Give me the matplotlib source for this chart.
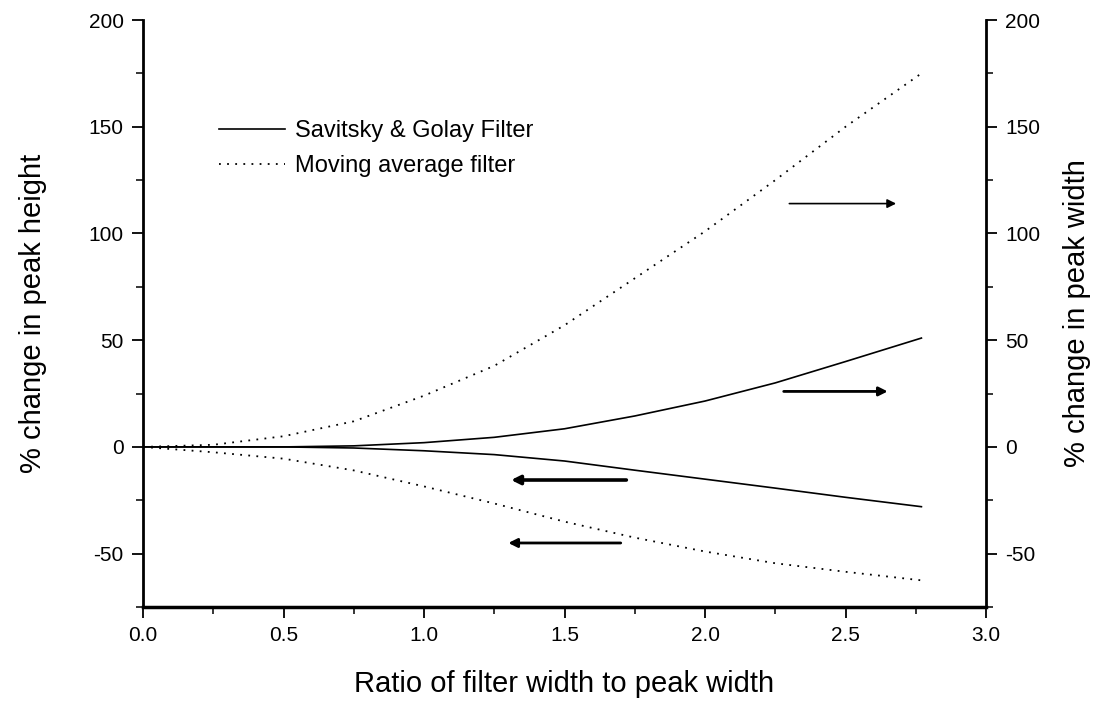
import matplotlib
matplotlib.use("Agg")
import matplotlib.pyplot as plt
from matplotlib.ticker import MultipleLocator

plt.rcParams['font.family'] = ['Liberation Sans', 'DejaVu Sans']
plt.rcParams['axes.unicode_minus'] = False

# ratio of filter width to peak width
ratio = [0.0, 0.25, 0.5, 0.75, 1.0, 1.25, 1.5, 1.75, 2.0, 2.25, 2.5, 2.77]

# % change in peak width (right axis)
sg_width = [0, 0, 0, 0.5, 2, 4.5, 8.5, 14.5, 21.5, 30, 40, 51]
ma_width = [0, 1, 5, 12, 24, 38, 57, 79, 101, 125, 150, 175]

# % change in peak height (left axis)
sg_height = [0, 0, 0, -0.5, -1.8, -3.6, -6.6, -10.9, -15.1, -19.3, -23.6, -28]
ma_height = [0, -2.5, -5.5, -11, -18.5, -26.5, -35, -42.5, -49, -54.5, -58.5, -62.5]

dotted = (0, (1, 3.5))

fig = plt.figure(figsize=(10.95, 7.02), dpi=100)
ax = fig.add_axes([0.1306, 0.1353, 0.7699, 0.8362])
ax2 = ax.twinx()

# height curves on left axis
ax.plot(ratio, sg_height, color='black', lw=1.2, label='Savitsky & Golay Filter')
ax.plot(ratio, ma_height, color='black', lw=1.3, linestyle=dotted, label='Moving average filter')
# width curves on right axis
ax2.plot(ratio, sg_width, color='black', lw=1.2)
ax2.plot(ratio, ma_width, color='black', lw=1.3, linestyle=dotted)

for a in (ax, ax2):
    a.set_xlim(0, 3.0)
    a.set_ylim(-75, 200)
    a.yaxis.set_major_locator(MultipleLocator(50))
    a.yaxis.set_minor_locator(MultipleLocator(25))
    a.spines['top'].set_visible(False)
    a.tick_params(which='major', direction='out', length=8, width=1.3, labelsize=15, pad=6)
    a.tick_params(which='minor', direction='out', length=5, width=1.1)

ax.xaxis.set_major_locator(MultipleLocator(0.5))
ax.xaxis.set_minor_locator(MultipleLocator(0.25))
ax.set_xticklabels([f'{v:.1f}' for v in ax.get_xticks()])
ax.spines['left'].set_linewidth(2)
ax.spines['bottom'].set_linewidth(2.5)
ax.spines['right'].set_visible(False)
ax2.spines['right'].set_linewidth(2)
ax2.spines['left'].set_visible(False)
ax2.spines['bottom'].set_visible(False)

ax.set_xlabel('Ratio of filter width to peak width', fontsize=21, labelpad=18)
ax.set_ylabel('% change in peak height', fontsize=21, labelpad=30)
ax2.set_ylabel('% change in peak width', fontsize=21, labelpad=16)

# arrows pointing to the axis each curve belongs to
arrows = [
    ((2.30, 114), (2.68, 114), 1.2),
    ((2.28, 26), (2.65, 26), 2.0),
    ((1.72, -15.5), (1.31, -15.5), 2.6),
    ((1.70, -45), (1.30, -45), 2.0),
]
for start, end, w in arrows:
    ax.annotate('', xy=end, xytext=start,
                arrowprops=dict(arrowstyle='-|>', color='black', lw=w,
                                mutation_scale=13, shrinkA=0, shrinkB=0))

ax.legend(loc='upper left', bbox_to_anchor=(0.079, 0.845), frameon=False,
          fontsize=17, handlelength=2.8, handletextpad=0.4, labelspacing=0.55,
          borderaxespad=0)

fig.savefig('out.png', dpi=100)
